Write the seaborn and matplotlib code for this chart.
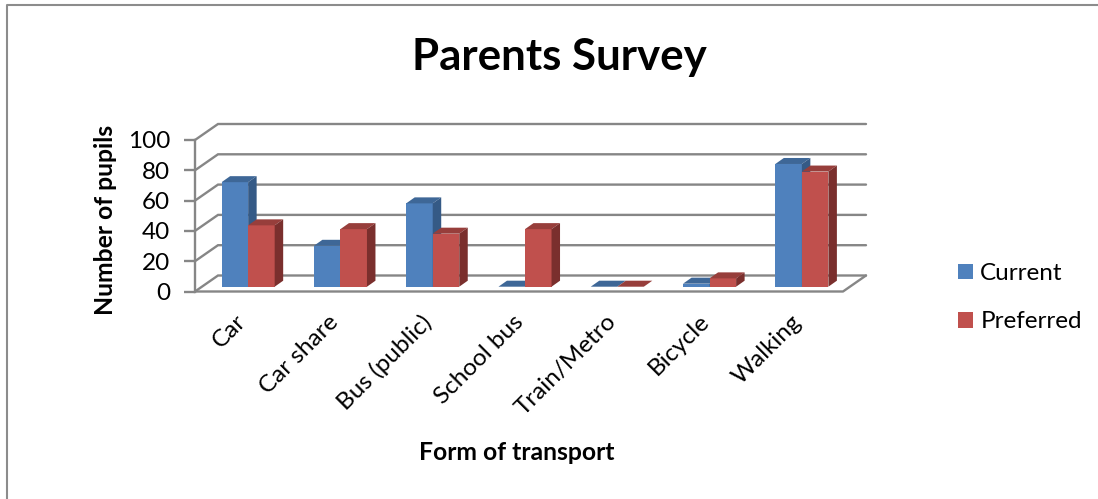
import matplotlib
matplotlib.use('Agg')
import matplotlib.pyplot as plt
from matplotlib.patches import Polygon
from matplotlib.transforms import ScaledTranslation
import pandas as pd
import seaborn as sns

transport = ['Car', 'Car share', 'Bus (public)', 'School bus', 'Train/Metro', 'Bicycle', 'Walking']
current = [69, 27, 55, 0, 0, 2, 81]
preferred = [40.5, 38, 35, 38, 0, 5.5, 76]
y_ticks = [0, 20, 40, 60, 80, 100]

W, H = 1098, 499
GREY = '#868686'
BLUE, RED = '#4F81BD', '#C0504D'
BLUE_TOP, RED_TOP = '#3E6797', '#973E3B'
BLUE_SIDE, RED_SIDE = '#355A86', '#7A2F2D'

sns.set_theme(style='white')
plt.rcParams['font.family'] = ['Lato', 'DejaVu Sans']
plt.rcParams['text.color'] = 'black'
plt.rcParams['axes.labelcolor'] = 'black'
plt.rcParams['xtick.labelcolor'] = 'black'
plt.rcParams['ytick.labelcolor'] = 'black'


def box(left, top, right, bottom):
    return [left / W, 1 - bottom / H, (right - left) / W, (bottom - top) / H]


data = pd.DataFrame({'transport': transport, 'Current': current, 'Preferred': preferred})
data = data.melt(id_vars='transport', var_name='series', value_name='pupils')

fig = plt.figure(figsize=(W / 100, H / 100), dpi=100)
fig.patch.set_facecolor('white')
fig.add_artist(plt.Line2D([7 / W, 7 / W, 1], [0, 1 - 4.5 / H, 1 - 4.5 / H], color='#8c8c8c', lw=1.5))

# front plane of the fake 3d box: ticks, labels, walls
wall = fig.add_axes(box(195, 140, 843, 291.5))
wall.set_xlim(-0.5, 6.5)
wall.set_ylim(0, 100)
for side in ['top', 'right', 'bottom']:
    wall.spines[side].set_visible(False)
wall.spines['left'].set_color(GREY)
wall.spines['left'].set_linewidth(1.7)
wall.set_yticks(y_ticks)
wall.tick_params(axis='y', length=8, width=1.7, color=GREY, labelsize=17.5, pad=10, left=True)
wall.set_xticks(range(len(transport)))
wall.set_xticklabels(transport, rotation=45, ha='right', va='top', rotation_mode='anchor', fontsize=17.5)
wall.tick_params(axis='x', length=0, pad=14)
shift = ScaledTranslation(-6 / 100, 0, fig.dpi_scale_trans)
for lab in wall.get_xticklabels():
    lab.set_transform(lab.get_transform() + shift)
wall.set_ylabel('Number of pupils', fontsize=17.8, fontweight='bold')
wall.yaxis.set_label_coords((117 - 195) / 648, 0.47)
wall.set_xlabel('Form of transport', fontsize=17.8, fontweight='bold')
wall.xaxis.set_label_coords((517 - 195) / 648, (291.5 - 453) / 151.5)
wall.xaxis.label.set_verticalalignment('center')

wall_dx = 23 / (648 / 7)
wall_dy = 16 / 1.515
for t in y_ticks:
    wall.plot([-0.5, -0.5 + wall_dx, 6.5 + wall_dx], [t, t + wall_dy, t + wall_dy],
              color=GREY, lw=1.7, clip_on=False, solid_joinstyle='miter')
wall.plot([-0.5, 6.5, 6.5 + wall_dx], [0, 0, wall_dy], color=GREY, lw=1.7, clip_on=False)

# bars stand a little behind the front plane
ax = fig.add_axes(box(202, 135.2, 848, 286.7))
ax.patch.set_alpha(0)
sns.barplot(data=data, x='transport', y='pupils', hue='series', order=transport,
            palette=[BLUE, RED], saturation=1, width=0.575, gap=0, linewidth=0, ax=ax)
ax.set_xlim(-0.5, 6.5)
ax.set_ylim(0, 100)
ax.set_axis_off()

bar_dx = 8.5 / (646 / 7)
bar_dy = 6 / 1.515
shades = [(BLUE_TOP, BLUE_SIDE), (RED_TOP, RED_SIDE)]
for i, bars in enumerate(ax.containers):
    top_c, side_c = shades[i]
    for p in bars:
        x0, w, h = p.get_x(), p.get_width(), p.get_height()
        x1 = x0 + w
        z = 2 + i
        p.set_zorder(z)
        p.set_clip_on(False)
        ax.add_patch(Polygon([(x0, h), (x1, h), (x1 + bar_dx, h + bar_dy), (x0 + bar_dx, h + bar_dy)],
                             facecolor=top_c, edgecolor='none', zorder=z, clip_on=False))
        ax.add_patch(Polygon([(x1, 0), (x1 + bar_dx, bar_dy), (x1 + bar_dx, h + bar_dy), (x1, h)],
                             facecolor=side_c, edgecolor='none', zorder=z, clip_on=False))

handles, labels = ax.get_legend_handles_labels()
ax.get_legend().remove()
fig.legend(handles, labels, loc='upper left', bbox_to_anchor=(958 / W, 1 - 263 / H), frameon=False,
           fontsize=17.5, handlelength=0.62, handleheight=0.62, handletextpad=0.3,
           labelspacing=1.12, borderpad=0, borderaxespad=0)

fig.text(559 / W, 1 - 57 / H, 'Parents Survey', fontsize=31.6, fontweight='bold', ha='center', va='center')

fig.savefig('out.png', dpi=100)
